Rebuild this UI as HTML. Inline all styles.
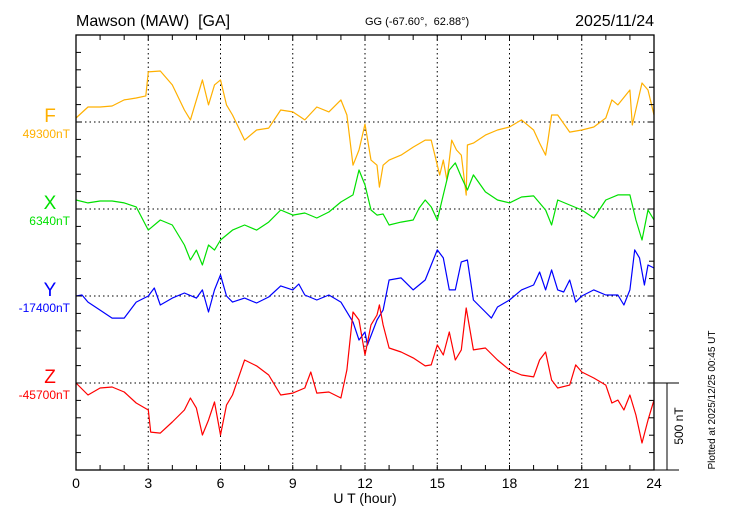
<!DOCTYPE html>
<html><head><meta charset="utf-8"><style>
body{margin:0;background:#fff;}
svg{display:block;font-family:"Liberation Sans",Arial,sans-serif;}
text{white-space:pre;}
</style></head><body>
<svg id="chart" width="730" height="520" viewBox="0 0 730 520">
<text x="76" y="26" font-size="16" xml:space="preserve">Mawson (MAW)  [GA]</text>
<text x="365" y="25" font-size="11" xml:space="preserve">GG (-67.60°,  62.88°)</text>
<text x="654" y="26" font-size="16" text-anchor="end">2025/11/24</text>
<g id="grid"></g>
<g id="series"></g>
<g id="axes"></g>
<text x="365" y="503" font-size="14" text-anchor="middle">U T (hour)</text>
<text transform="translate(683,426) rotate(-90)" font-size="12" text-anchor="middle">500 nT</text>
<text transform="translate(715,400) rotate(-90)" font-size="10" text-anchor="middle">Plotted at 2025/12/25 00:45 UT</text>
</svg>
<script>
const xTicks=[0,3,6,9,12,15,18,21,24];
const fTimes=[0,0.5,1,1.5,2,2.5,2.9,3,3.5,4,4.5,4.75,5,5.25,5.5,5.75,6,6.25,6.5,7,7.5,8,8.5,9,9.5,10,10.5,11,11.25,11.5,11.75,12,12.25,12.5,12.6,12.75,13,13.5,14,14.5,14.75,15,15.1,15.25,15.4,15.6,15.8,16,16.2,16.25,16.5,17,17.5,18,18.5,19,19.25,19.5,19.6,19.75,20,20.5,21,21.5,22,22.25,22.5,23,23.1,23.5,23.75,24];
const fValues=[23,86,86,92,127,138,150,288,293,213,69,12,127,242,98,213,242,98,40,-104,-46,-35,69,58,12,86,58,127,40,-248,-161,-12,-219,-248,-374,-248,-219,-190,-144,-104,-104,-248,-305,-219,-334,-104,-161,-190,-420,-132,-121,-75,-46,-29,12,-46,-121,-190,-104,40,40,-58,-46,-29,23,127,98,184,-17,224,184,40];
const xTimes=[0,0.5,1,1.5,2,2.5,3,3.5,4,4.5,4.75,5,5.25,5.5,5.75,6,6.5,7,7.5,8,8.5,9,9.5,10,10.5,11,11.5,11.75,12,12.25,12.5,12.75,13,13.5,14,14.25,14.5,14.75,15,15.25,15.5,15.75,16,16.25,16.5,17,17.5,18,18.5,19,19.5,19.75,20,20.5,21,21.5,22,22.5,23,23.25,23.5,23.75,24];
const xValues=[52,35,46,46,35,12,-121,-63,-92,-207,-293,-236,-322,-207,-236,-178,-121,-92,-121,-75,-6,-35,-23,-52,-17,40,81,224,138,-6,-35,-29,-92,-75,-63,6,52,12,-63,81,224,265,184,109,196,98,52,35,69,75,-6,-92,52,23,-6,-52,52,81,81,-63,-178,-6,-63];
const yTimes=[0,0.25,0.5,1,1.5,2,2.5,3,3.25,3.5,4,4.5,5,5.25,5.5,5.75,6,6.25,6.5,7,7.5,8,8.5,9,9.25,9.5,10,10.5,11,11.5,11.75,12,12.1,12.5,12.75,13,13.5,14,14.5,14.75,15,15.25,15.5,15.75,16,16.25,16.5,17,17.25,17.5,18,18.5,19,19.25,19.5,19.75,20,20.25,20.5,20.75,21,21.5,22,22.5,22.75,23,23.2,23.4,23.6,23.75,24];
const yValues=[0,6,-35,-81,-127,-127,-35,0,46,-52,-12,17,-12,35,-92,35,121,0,-35,-12,-40,-6,58,35,69,6,-23,6,-35,-150,-253,-207,-282,-138,-81,92,104,35,92,178,265,219,35,35,196,207,-23,-92,-127,-63,-23,35,63,138,35,150,35,23,92,-35,0,35,6,6,-52,35,265,219,63,178,161];
const zTimes=[0,0.5,1,1.5,2,2.5,3,3.1,3.5,4,4.5,4.75,5,5.25,5.5,5.75,6,6.25,6.5,7,7.5,8,8.5,9,9.5,9.75,10,10.5,11,11.25,11.5,11.75,12,12.25,12.5,12.6,12.75,13,13.5,14,14.5,14.75,15,15.25,15.5,15.75,16,16.2,16.5,17,17.5,18,18.5,19,19.25,19.5,19.75,20,20.5,20.75,21,21.5,22,22.25,22.5,22.75,23,23.25,23.5,23.75,24];
const zValues=[0,-69,-29,-23,-52,-115,-155,-282,-288,-224,-155,-86,-144,-299,-213,-109,-299,-127,-69,132,98,46,-69,-58,-29,63,-58,-52,-86,75,408,362,161,334,391,449,334,201,178,144,98,104,219,161,293,132,190,431,190,201,132,75,46,35,132,178,17,-29,-12,104,63,29,-12,-115,-98,-155,-69,-184,-345,-213,-98];
const baseLabels=["49300nT","6340nT","-17400nT","-45700nT"];

const L=76,R=654,T=35,B=470,NS="http://www.w3.org/2000/svg";
const xs=h=>L+h*(R-L)/24;
const ys=(v,base)=>base-v*0.174;
function mk(tag,attrs,parent){const e=document.createElementNS(NS,tag);for(const k in attrs)e.setAttribute(k,attrs[k]);parent.appendChild(e);return e;}
const grid=document.getElementById('grid'),axes=document.getElementById('axes'),ser=document.getElementById('series');
const bases=[122,209,296,383];
xTicks.slice(1,-1).forEach(h=>{const l=mk('line',{x1:xs(h),x2:xs(h),y1:T,y2:B,stroke:'#000','stroke-width':1,'stroke-dasharray':'1.5,3'},grid);

});
bases.forEach(b=>{const l=mk('line',{x1:L,x2:R,y1:b,y2:b,stroke:'#000','stroke-width':1,'stroke-dasharray':'1.5,3'},grid);

});
const fr=mk('rect',{x:L,y:T,width:R-L,height:B-T,fill:'none',stroke:'#000','stroke-width':1.3},axes);


for(let h=0;h<=24;h++){mk('line',{x1:xs(h),x2:xs(h),y1:T,y2:T+5,stroke:'#000'},axes);mk('line',{x1:xs(h),x2:xs(h),y1:B,y2:B-5,stroke:'#000'},axes);}
for(let i=0;i<=25;i++){const y=T+i*(B-T)/25;mk('line',{x1:L,x2:L+5,y1:y,y2:y,stroke:'#000'},axes);mk('line',{x1:R,x2:R-5,y1:y,y2:y,stroke:'#000'},axes);}
xTicks.forEach(h=>{const t=mk('text',{x:xs(h),y:488,'font-size':14,'text-anchor':'middle'},axes);t.textContent=h;

});
mk('line',{x1:R,x2:679,y1:383,y2:383,stroke:'#000'},axes);
mk('line',{x1:R,x2:679,y1:470,y2:470,stroke:'#000'},axes);
const sb=mk('line',{x1:667,x2:667,y1:383,y2:470,stroke:'#000'},axes);


const defs=[["F",fTimes,fValues,'#ffb000'],["X",xTimes,xValues,'#00e000'],["Y",yTimes,yValues,'#0000ff'],["Z",zTimes,zValues,'#ff0000']];
defs.forEach((d,i)=>{const base=bases[i];
const pts=d[1].map((t,j)=>xs(t).toFixed(1)+','+ys(d[2][j],base).toFixed(1)).join(' ');
const p=mk('polyline',{points:pts,fill:'none',stroke:d[3],'stroke-width':1.2,'stroke-linejoin':'round'},ser);


const a=mk('text',{x:50,y:base,'font-size':19,fill:d[3],'text-anchor':'middle'},ser);a.textContent=d[0];


const b=mk('text',{x:70,y:base+16,'font-size':12,fill:d[3],'text-anchor':'end'},ser);b.textContent=baseLabels[i];


});
</script>
</body></html>
